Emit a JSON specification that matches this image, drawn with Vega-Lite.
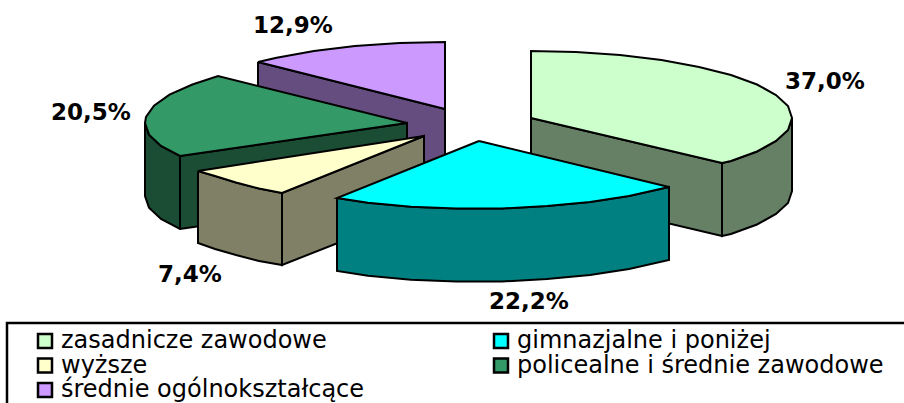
{"$schema":"https://vega.github.io/schema/vega-lite/v6.json","width":904,"height":403,"padding":0,"autosize":{"type":"none"},"background":"white","view":{"stroke":null},"config":{"font":"DejaVu Sans"},"layer":[{"data":{"name":"shapes","values":[
{"s":"a1","c":"średnie ogólnokształcące bok","i":0,"x":258,"y":62},{"s":"a1","c":"średnie ogólnokształcące bok","i":1,"x":445,"y":109},{"s":"a1","c":"średnie ogólnokształcące bok","i":2,"x":445,"y":182},{"s":"a1","c":"średnie ogólnokształcące bok","i":3,"x":258,"y":135},{"s":"a1","c":"średnie ogólnokształcące bok","i":4,"x":258,"y":62},
{"s":"a2","c":"średnie ogólnokształcące","i":0,"x":445,"y":109},{"s":"a2","c":"średnie ogólnokształcące","i":1,"x":445,"y":42},{"s":"a2","c":"średnie ogólnokształcące","i":2,"x":399.5,"y":43},{"s":"a2","c":"średnie ogólnokształcące","i":3,"x":355,"y":46},{"s":"a2","c":"średnie ogólnokształcące","i":4,"x":314,"y":51},{"s":"a2","c":"średnie ogólnokształcące","i":5,"x":276.6,"y":57.7},{"s":"a2","c":"średnie ogólnokształcące","i":6,"x":258,"y":62},{"s":"a2","c":"średnie ogólnokształcące","i":7,"x":445,"y":109},
{"s":"b1","c":"zasadnicze zawodowe bok","i":0,"x":531,"y":118},{"s":"b1","c":"zasadnicze zawodowe bok","i":1,"x":722,"y":163},{"s":"b1","c":"zasadnicze zawodowe bok","i":2,"x":722,"y":236},{"s":"b1","c":"zasadnicze zawodowe bok","i":3,"x":531,"y":191},{"s":"b1","c":"zasadnicze zawodowe bok","i":4,"x":531,"y":118},
{"s":"b2","c":"zasadnicze zawodowe bok","i":0,"x":722,"y":163},{"s":"b2","c":"zasadnicze zawodowe bok","i":1,"x":731,"y":161},{"s":"b2","c":"zasadnicze zawodowe bok","i":2,"x":757,"y":151.5},{"s":"b2","c":"zasadnicze zawodowe bok","i":3,"x":776,"y":141},{"s":"b2","c":"zasadnicze zawodowe bok","i":4,"x":788,"y":130},{"s":"b2","c":"zasadnicze zawodowe bok","i":5,"x":792,"y":118},{"s":"b2","c":"zasadnicze zawodowe bok","i":6,"x":792,"y":191},{"s":"b2","c":"zasadnicze zawodowe bok","i":7,"x":788,"y":203},{"s":"b2","c":"zasadnicze zawodowe bok","i":8,"x":776,"y":214},{"s":"b2","c":"zasadnicze zawodowe bok","i":9,"x":757,"y":224.5},{"s":"b2","c":"zasadnicze zawodowe bok","i":10,"x":731,"y":234},{"s":"b2","c":"zasadnicze zawodowe bok","i":11,"x":722,"y":236},{"s":"b2","c":"zasadnicze zawodowe bok","i":12,"x":722,"y":163},
{"s":"b3","c":"zasadnicze zawodowe","i":0,"x":531,"y":118},{"s":"b3","c":"zasadnicze zawodowe","i":1,"x":531,"y":51},{"s":"b3","c":"zasadnicze zawodowe","i":2,"x":576,"y":52},{"s":"b3","c":"zasadnicze zawodowe","i":3,"x":620,"y":55},{"s":"b3","c":"zasadnicze zawodowe","i":4,"x":661.5,"y":60},{"s":"b3","c":"zasadnicze zawodowe","i":5,"x":699,"y":67},{"s":"b3","c":"zasadnicze zawodowe","i":6,"x":731,"y":75},{"s":"b3","c":"zasadnicze zawodowe","i":7,"x":757,"y":84.5},{"s":"b3","c":"zasadnicze zawodowe","i":8,"x":776,"y":95},{"s":"b3","c":"zasadnicze zawodowe","i":9,"x":788,"y":106},{"s":"b3","c":"zasadnicze zawodowe","i":10,"x":792,"y":118},{"s":"b3","c":"zasadnicze zawodowe","i":11,"x":788,"y":130},{"s":"b3","c":"zasadnicze zawodowe","i":12,"x":776,"y":141},{"s":"b3","c":"zasadnicze zawodowe","i":13,"x":757,"y":151.5},{"s":"b3","c":"zasadnicze zawodowe","i":14,"x":731,"y":161},{"s":"b3","c":"zasadnicze zawodowe","i":15,"x":722,"y":163},{"s":"b3","c":"zasadnicze zawodowe","i":16,"x":531,"y":118},
{"s":"c1","c":"policealne i średnie zawodowe bok","i":0,"x":145,"y":123},{"s":"c1","c":"policealne i średnie zawodowe bok","i":1,"x":149,"y":134.6},{"s":"c1","c":"policealne i średnie zawodowe bok","i":2,"x":161,"y":146},{"s":"c1","c":"policealne i średnie zawodowe bok","i":3,"x":180,"y":156},{"s":"c1","c":"policealne i średnie zawodowe bok","i":4,"x":407,"y":123},{"s":"c1","c":"policealne i średnie zawodowe bok","i":5,"x":407,"y":196},{"s":"c1","c":"policealne i średnie zawodowe bok","i":6,"x":180,"y":229},{"s":"c1","c":"policealne i średnie zawodowe bok","i":7,"x":161,"y":219},{"s":"c1","c":"policealne i średnie zawodowe bok","i":8,"x":149,"y":207.6},{"s":"c1","c":"policealne i średnie zawodowe bok","i":9,"x":145,"y":196},{"s":"c1","c":"policealne i średnie zawodowe bok","i":10,"x":145,"y":123},
{"s":"c2","c":"policealne i średnie zawodowe bok","i":0,"x":180,"y":156},{"s":"c2","c":"policealne i średnie zawodowe bok","i":1,"x":180,"y":229},
{"s":"c3","c":"policealne i średnie zawodowe","i":0,"x":407,"y":123},{"s":"c3","c":"policealne i średnie zawodowe","i":1,"x":218,"y":76},{"s":"c3","c":"policealne i średnie zawodowe","i":2,"x":192.4,"y":84.5},{"s":"c3","c":"policealne i średnie zawodowe","i":3,"x":169.5,"y":94.7},{"s":"c3","c":"policealne i średnie zawodowe","i":4,"x":154,"y":105.7},{"s":"c3","c":"policealne i średnie zawodowe","i":5,"x":146,"y":117},{"s":"c3","c":"policealne i średnie zawodowe","i":6,"x":145,"y":123},{"s":"c3","c":"policealne i średnie zawodowe","i":7,"x":149,"y":134.6},{"s":"c3","c":"policealne i średnie zawodowe","i":8,"x":161,"y":146},{"s":"c3","c":"policealne i średnie zawodowe","i":9,"x":180,"y":156},{"s":"c3","c":"policealne i średnie zawodowe","i":10,"x":407,"y":123},
{"s":"d1","c":"wyższe bok","i":0,"x":282,"y":193},{"s":"d1","c":"wyższe bok","i":1,"x":424,"y":136},{"s":"d1","c":"wyższe bok","i":2,"x":424,"y":209},{"s":"d1","c":"wyższe bok","i":3,"x":282,"y":265},{"s":"d1","c":"wyższe bok","i":4,"x":282,"y":193},
{"s":"d2","c":"wyższe bok","i":0,"x":198,"y":171},{"s":"d2","c":"wyższe bok","i":1,"x":215,"y":176},{"s":"d2","c":"wyższe bok","i":2,"x":236,"y":182.5},{"s":"d2","c":"wyższe bok","i":3,"x":259,"y":188.5},{"s":"d2","c":"wyższe bok","i":4,"x":282,"y":193},{"s":"d2","c":"wyższe bok","i":5,"x":282,"y":265},{"s":"d2","c":"wyższe bok","i":6,"x":259,"y":261},{"s":"d2","c":"wyższe bok","i":7,"x":236,"y":255},{"s":"d2","c":"wyższe bok","i":8,"x":215,"y":249},{"s":"d2","c":"wyższe bok","i":9,"x":198,"y":243},{"s":"d2","c":"wyższe bok","i":10,"x":198,"y":171},
{"s":"d3","c":"wyższe","i":0,"x":424,"y":136},{"s":"d3","c":"wyższe","i":1,"x":198,"y":171},{"s":"d3","c":"wyższe","i":2,"x":215,"y":176},{"s":"d3","c":"wyższe","i":3,"x":236,"y":182.5},{"s":"d3","c":"wyższe","i":4,"x":259,"y":188.5},{"s":"d3","c":"wyższe","i":5,"x":282,"y":193},{"s":"d3","c":"wyższe","i":6,"x":424,"y":136},
{"s":"e1","c":"gimnazjalne i poniżej bok","i":0,"x":337,"y":198},{"s":"e1","c":"gimnazjalne i poniżej bok","i":1,"x":368,"y":202.7},{"s":"e1","c":"gimnazjalne i poniżej bok","i":2,"x":411,"y":206.7},{"s":"e1","c":"gimnazjalne i poniżej bok","i":3,"x":456,"y":208.5},{"s":"e1","c":"gimnazjalne i poniżej bok","i":4,"x":502,"y":208.5},{"s":"e1","c":"gimnazjalne i poniżej bok","i":5,"x":547,"y":206},{"s":"e1","c":"gimnazjalne i poniżej bok","i":6,"x":590,"y":202},{"s":"e1","c":"gimnazjalne i poniżej bok","i":7,"x":629,"y":196},{"s":"e1","c":"gimnazjalne i poniżej bok","i":8,"x":669,"y":187},{"s":"e1","c":"gimnazjalne i poniżej bok","i":9,"x":669,"y":260},{"s":"e1","c":"gimnazjalne i poniżej bok","i":10,"x":629,"y":269},{"s":"e1","c":"gimnazjalne i poniżej bok","i":11,"x":590,"y":275},{"s":"e1","c":"gimnazjalne i poniżej bok","i":12,"x":547,"y":279},{"s":"e1","c":"gimnazjalne i poniżej bok","i":13,"x":502,"y":281.5},{"s":"e1","c":"gimnazjalne i poniżej bok","i":14,"x":456,"y":281.5},{"s":"e1","c":"gimnazjalne i poniżej bok","i":15,"x":411,"y":279.7},{"s":"e1","c":"gimnazjalne i poniżej bok","i":16,"x":368,"y":275.7},{"s":"e1","c":"gimnazjalne i poniżej bok","i":17,"x":337,"y":271},{"s":"e1","c":"gimnazjalne i poniżej bok","i":18,"x":337,"y":198},
{"s":"e2","c":"gimnazjalne i poniżej","i":0,"x":479,"y":141},{"s":"e2","c":"gimnazjalne i poniżej","i":1,"x":337,"y":198},{"s":"e2","c":"gimnazjalne i poniżej","i":2,"x":368,"y":202.7},{"s":"e2","c":"gimnazjalne i poniżej","i":3,"x":411,"y":206.7},{"s":"e2","c":"gimnazjalne i poniżej","i":4,"x":456,"y":208.5},{"s":"e2","c":"gimnazjalne i poniżej","i":5,"x":502,"y":208.5},{"s":"e2","c":"gimnazjalne i poniżej","i":6,"x":547,"y":206},{"s":"e2","c":"gimnazjalne i poniżej","i":7,"x":590,"y":202},{"s":"e2","c":"gimnazjalne i poniżej","i":8,"x":629,"y":196},{"s":"e2","c":"gimnazjalne i poniżej","i":9,"x":669,"y":187},{"s":"e2","c":"gimnazjalne i poniżej","i":10,"x":479,"y":141}
]},"mark":{"type":"line","stroke":"black","strokeWidth":2,"strokeJoin":"miter"},"encoding":{"x":{"field":"x","type":"quantitative","axis":null,"scale":{"domain":[0,904],"nice":false,"zero":false}},"y":{"field":"y","type":"quantitative","axis":null,"scale":{"domain":[403,0],"nice":false,"zero":false}},"order":{"field":"i","type":"quantitative"},"detail":{"field":"s","type":"nominal"},"fill":{"field":"c","type":"nominal","scale":{"domain":["zasadnicze zawodowe","gimnazjalne i poniżej","wyższe","policealne i średnie zawodowe","średnie ogólnokształcące","zasadnicze zawodowe bok","gimnazjalne i poniżej bok","wyższe bok","policealne i średnie zawodowe bok","średnie ogólnokształcące bok"],"range":["#CCFFCC","#00FFFF","#FFFFCC","#339966","#CC99FF","#668066","#008080","#808066","#1A4D33","#664D80"]},"legend":{"values":["zasadnicze zawodowe","wyższe","średnie ogólnokształcące","gimnazjalne i poniżej","policealne i średnie zawodowe"],"title":null,"orient":"none","legendX":33,"legendY":329,"columns":2,"columnPadding":124,"rowPadding":0.5,"symbolType":"square","symbolSize":196,"symbolStrokeColor":"black","symbolStrokeWidth":2.5,"labelFontSize":24,"labelFont":"DejaVu Sans","labelColor":"black","labelLimit":500,"labelOffset":4,"padding":0}}}},
{"data":{"values":[{"s":"f","i":0,"x":904,"y":323},{"s":"f","i":1,"x":7,"y":323},{"s":"f","i":2,"x":7,"y":403}]},"mark":{"type":"line","stroke":"black","strokeWidth":2.5},"encoding":{"x":{"field":"x","type":"quantitative"},"y":{"field":"y","type":"quantitative"},"order":{"field":"i","type":"quantitative"}}},
{"data":{"values":[{"t":"12,9%","x":293,"y":26},{"t":"37,0%","x":825,"y":82},{"t":"20,5%","x":91,"y":113},{"t":"7,4%","x":190,"y":275},{"t":"22,2%","x":529,"y":302}]},"mark":{"type":"text","fontWeight":"bold","fontSize":23,"font":"DejaVu Sans","color":"black"},"encoding":{"x":{"field":"x","type":"quantitative"},"y":{"field":"y","type":"quantitative"},"text":{"field":"t","type":"nominal"}}}
]}
